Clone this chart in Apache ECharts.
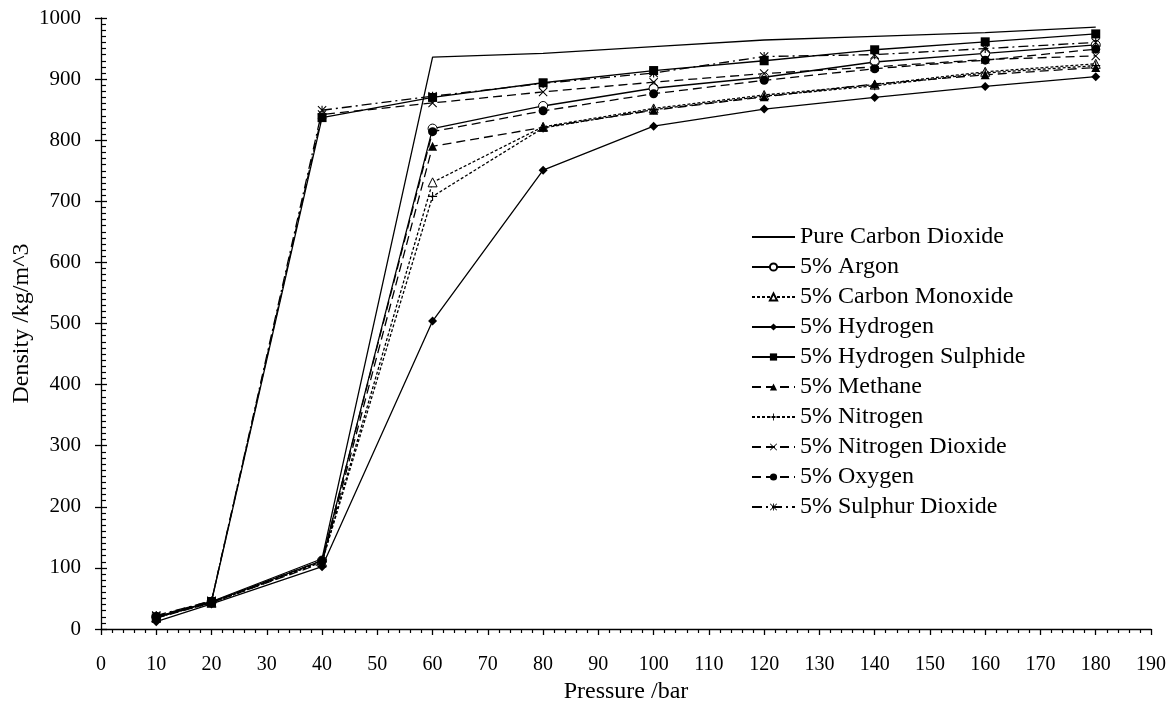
<!DOCTYPE html>
<html>
<head>
<meta charset="utf-8">
<script src="https://cdn.jsdelivr.net/npm/echarts@6/dist/echarts.min.js"></script>
<style>
  html, body { margin: 0; padding: 0; background: #fff; }
  #chart { width: 1174px; height: 709px; }
</style>
</head>
<body>
<div id="chart"></div>
<script>
// pressure points (bar)
const pressure = [10, 20, 40, 60, 80, 100, 120, 140, 160, 180];

// density (kg/m^3) per mixture
const pureCO2    = [20, 45, 115, 936, 942, 953, 964, 970, 976, 985];
const argon      = [20, 44, 112, 819, 856, 885, 903, 928, 942, 956];
const carbonMono = [19, 43, 110, 731, 822, 852, 874, 891, 912, 925];
const hydrogen   = [12, 41, 102, 504, 751, 823, 851, 870, 888, 904];
const hydrogenS  = [18, 45, 837, 870, 894, 914, 930, 948, 961, 974];
const methane    = [18, 43, 108, 790, 821, 849, 871, 892, 907, 919];
const nitrogen   = [19, 43, 110, 708, 820, 850, 872, 889, 910, 922];
const nitrogenD  = [21, 46, 842, 861, 879, 895, 909, 920, 932, 938];
const oxygen     = [20, 44, 112, 814, 848, 876, 898, 917, 931, 949];
const sulphurD   = [22, 46, 849, 872, 893, 910, 937, 940, 950, 960];

const xTicks = { min: 0, max: 190, step: 10 };
const yTicks = { min: 0, max: 1000, step: 100 };

// custom marker shapes
const plusPath = 'path://M0,4.4H10V5.6H0Z M4.4,0H5.6V10H4.4Z';
const crossPath = 'path://M0.8,0L10,9.2L9.2,10L0,0.8Z M9.2,0L10,0.8L0.8,10L0,9.2Z';
const starPath = 'path://M0.8,0L10,9.2L9.2,10L0,0.8Z M9.2,0L10,0.8L0.8,10L0,9.2Z M4.4,0H5.6V10H4.4Z';

function pts(arr) {
  return pressure.map((p, i) => [p, arr[i]]);
}

function mk(name, values, symbol, fill, dash) {
  const noMark = symbol === 'none';
  return {
    name: name,
    type: 'line',
    data: pts(values),
    symbol: symbol,
    symbolSize: noMark ? 0 : 9,
    showSymbol: !noMark,
    lineStyle: { color: '#000', width: 1.3, type: dash },
    // hide legend marker for the plain line
    itemStyle: { color: fill, borderColor: '#000', borderWidth: fill === '#fff' ? 1 : 0, opacity: noMark ? 0 : 1 },
    emphasis: { disabled: true },
    animation: false
  };
}

const serif = '"Liberation Serif", "DejaVu Serif", serif';

const chart = echarts.init(document.getElementById('chart'));
chart.setOption({
  backgroundColor: '#fff',
  animation: false,
  textStyle: { fontFamily: serif, color: '#000' },
  grid: { left: 101, right: 23, top: 18, bottom: 80, outerBoundsMode: 'none' },
  legend: {
    orient: 'vertical',
    left: 746,
    top: 220,
    itemWidth: 43,
    itemHeight: 9,
    itemGap: 6,
    textStyle: { fontFamily: serif, fontSize: 24, color: '#000', lineHeight: 22 },
    data: ['Pure Carbon Dioxide', '5% Argon', '5% Carbon Monoxide', '5% Hydrogen',
      '5% Hydrogen Sulphide', '5% Methane', '5% Nitrogen', '5% Nitrogen Dioxide',
      '5% Oxygen', '5% Sulphur Dioxide']
  },
  xAxis: {
    type: 'value',
    min: xTicks.min, max: xTicks.max, interval: xTicks.step,
    name: 'Pressure /bar',
    nameLocation: 'middle',
    nameGap: 51,
    nameMoveOverlap: false,
    nameTextStyle: { fontFamily: serif, fontSize: 24, color: '#000' },
    axisLine: { lineStyle: { color: '#000', width: 1.3 } },
    axisTick: { show: true, length: 6, lineStyle: { color: '#000', width: 1.3 } },
    minorTick: { show: true, splitNumber: 5, length: 4, lineStyle: { color: '#000', width: 1.2 } },
    splitLine: { show: false },
    axisLabel: { fontFamily: serif, fontSize: 20, color: '#000', margin: 26 }
  },
  yAxis: [{
    type: 'value',
    min: yTicks.min, max: yTicks.max, interval: yTicks.step,
    name: 'Density /kg/m^3',
    nameLocation: 'middle',
    nameGap: 67,
    nameMoveOverlap: false,
    nameTextStyle: { fontFamily: serif, fontSize: 24, color: '#000' },
    axisLine: { show: true, lineStyle: { color: '#000', width: 1.3 } },
    axisTick: { show: true, inside: true, length: 6, lineStyle: { color: '#000', width: 1.3 } },
    minorTick: { show: true, splitNumber: 10, length: 5, lineStyle: { color: '#000', width: 1.2 } },
    splitLine: { show: false },
    axisLabel: { fontFamily: serif, fontSize: 21, color: '#000', margin: 20, formatter: v => String(v) }
  }, {
    // outer half of the crossing major ticks
    type: 'value',
    position: 'left',
    min: yTicks.min, max: yTicks.max, interval: yTicks.step,
    axisLine: { show: false },
    axisTick: { show: true, length: 6, lineStyle: { color: '#000', width: 1.3 } },
    axisLabel: { show: false },
    splitLine: { show: false }
  }],
  series: [
    mk('Pure Carbon Dioxide', pureCO2, 'none', '#000', 'solid'),
    mk('5% Argon', argon, 'circle', '#fff', 'solid'),
    mk('5% Carbon Monoxide', carbonMono, 'triangle', '#fff', [3, 2]),
    mk('5% Hydrogen', hydrogen, 'diamond', '#000', 'solid'),
    mk('5% Hydrogen Sulphide', hydrogenS, 'rect', '#000', 'solid'),
    mk('5% Methane', methane, 'triangle', '#000', [9, 5]),
    mk('5% Nitrogen', nitrogen, plusPath, '#000', [3, 2]),
    mk('5% Nitrogen Dioxide', nitrogenD, crossPath, '#000', [9, 5]),
    mk('5% Oxygen', oxygen, 'circle', '#000', [9, 5]),
    mk('5% Sulphur Dioxide', sulphurD, starPath, '#000', [10, 4, 2, 4])
  ]
});
</script>
</body>
</html>
